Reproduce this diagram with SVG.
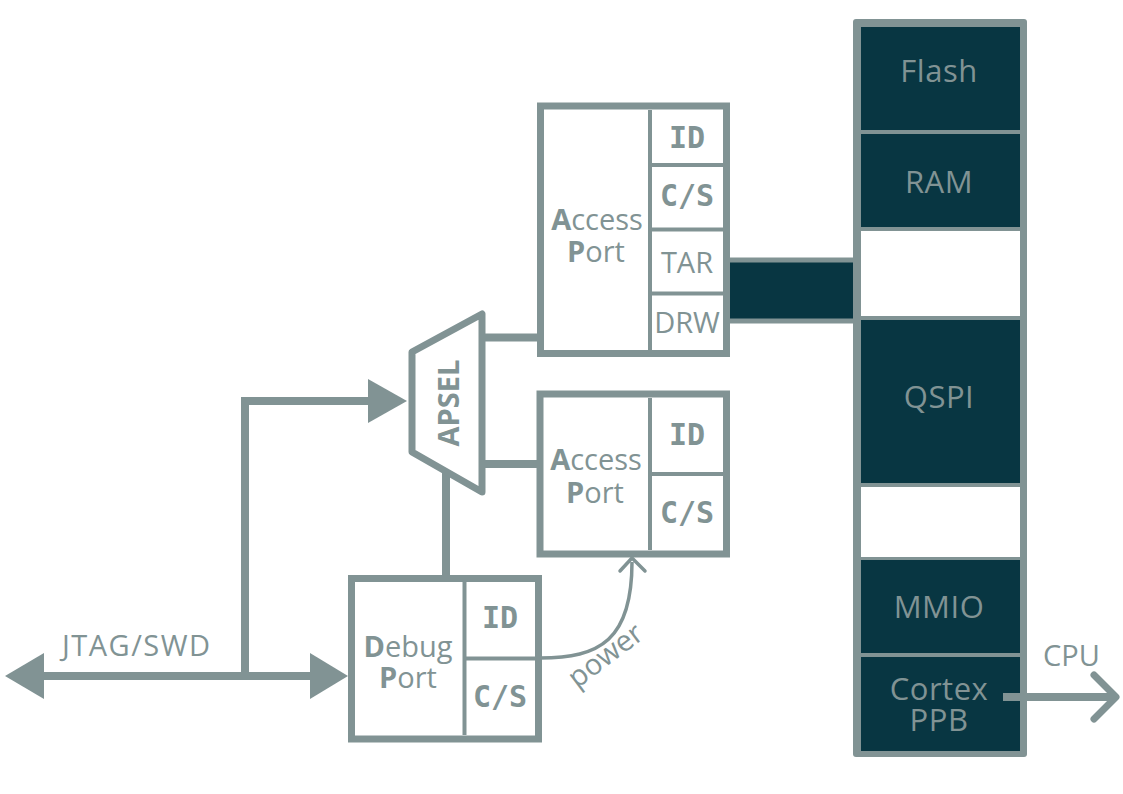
<svg xmlns="http://www.w3.org/2000/svg" width="1123" height="794" viewBox="0 0 1123 794">
<style>
.box{fill:#ffffff;stroke:#819394;stroke-width:7}
.div{stroke:#819394;stroke-width:4;fill:none}
.ln{stroke:#819394;stroke-width:8;fill:none}
.t{font-family:"Open Sans","Noto Sans","DejaVu Sans",sans-serif;font-size:29px;fill:#819394}
.m{font-family:"DejaVu Sans Mono","Liberation Mono",monospace;font-size:30px;font-weight:bold;fill:#819394}
.dark{fill:#083642}
.wh{fill:#ffffff}
.mt{font-family:"Open Sans","Noto Sans","DejaVu Sans",sans-serif;font-size:31px;fill:#819394;text-anchor:middle;letter-spacing:0.5px}
</style>
<rect width="1123" height="794" fill="#ffffff"/>
<g id="connectors">
  <path class="ln" d="M44,676 H312"/>
  <polygon points="5,676 44,653 44,699" fill="#819394"/>
  <polygon points="348,676 310,653 310,699" fill="#819394"/>
  <path class="ln" d="M245,676 V401 H372" stroke-linejoin="miter"/>
  <polygon points="407,401 368,379 368,423" fill="#819394"/>
  <path class="ln" d="M483,337.5 H537"/>
  <path class="ln" d="M483,464 H537"/>
  <path class="ln" d="M446,470 V576"/>
  <path d="M540,658 C600,658 632,640 632,562" stroke="#819394" stroke-width="3.5" fill="none"/>
  <path d="M620,571 L632,558 L645,571" stroke="#819394" stroke-width="3.5" fill="none" stroke-linecap="round" stroke-linejoin="round"/>
  <rect x="727" y="260" width="129" height="61" fill="#083642" stroke="#819394" stroke-width="5"/>
  <path class="ln" d="M1003,697 H1114"/>
  <path d="M1094,675 L1116,697 L1094,719" stroke="#819394" stroke-width="7" fill="none" stroke-linecap="round" stroke-linejoin="round"/>
  <text class="t" x="62" y="656" font-size="30" letter-spacing="1.5">JTAG/SWD</text>
  <text class="t" x="1043" y="666">CPU</text>
  <text class="t" x="0" y="0" font-size="31" transform="translate(577,689) rotate(-37)">power</text>
</g>
<g id="apsel">
  <polygon points="412,352 482,314 482,492 412,452" fill="#ffffff" stroke="#819394" stroke-width="7" stroke-linejoin="round"/>
  <text class="t" font-weight="bold" font-size="33" text-anchor="middle" transform="translate(459,403) rotate(-90)">APSEL</text>
</g>
<g id="access-port-1">
  <rect class="box" x="540.5" y="106" width="186" height="247.5"/>
  <path class="div" d="M650,110 V350 M652,165 H723 M652,229.5 H723 M652,293.5 H723"/>
  <text class="t" x="597" y="230" text-anchor="middle"><tspan font-weight="bold">A</tspan>ccess</text>
  <text class="t" x="596" y="262" text-anchor="middle"><tspan font-weight="bold">P</tspan>ort</text>
  <text class="m" x="687" y="148" text-anchor="middle">ID</text>
  <text class="m" x="687" y="206" text-anchor="middle">C/S</text>
  <text class="t" x="687" y="273" text-anchor="middle">TAR</text>
  <text class="t" x="687" y="333" text-anchor="middle">DRW</text>
</g>
<g id="access-port-2">
  <rect class="box" x="540" y="394" width="186.5" height="160"/>
  <path class="div" d="M650,398 V550 M652,474 H723"/>
  <text class="t" x="596" y="470" text-anchor="middle"><tspan font-weight="bold">A</tspan>ccess</text>
  <text class="t" x="595" y="503" text-anchor="middle"><tspan font-weight="bold">P</tspan>ort</text>
  <text class="m" x="687" y="445" text-anchor="middle">ID</text>
  <text class="m" x="687" y="523" text-anchor="middle">C/S</text>
</g>
<g id="debug-port">
  <rect class="box" x="351.5" y="578.5" width="187" height="160.5"/>
  <path class="div" d="M464.5,582 V735 M466,658.5 H535"/>
  <text class="t" x="408" y="657" text-anchor="middle"><tspan font-weight="bold">D</tspan>ebug</text>
  <text class="t" x="408" y="688" text-anchor="middle"><tspan font-weight="bold">P</tspan>ort</text>
  <text class="m" x="500" y="628" text-anchor="middle">ID</text>
  <text class="m" x="500" y="707" text-anchor="middle">C/S</text>
</g>
<g id="memory-map">
  <rect x="853" y="19" width="174" height="738" rx="3" fill="#819394"/>
  <g id="flash"><rect class="dark" x="861" y="27" width="159" height="103"/><text class="mt" x="939" y="82">Flash</text></g>
  <g id="ram"><rect class="dark" x="861" y="134" width="159" height="93"/><text class="mt" x="939" y="193">RAM</text></g>
  <g id="gap1"><rect class="wh" x="861" y="231" width="159" height="85"/></g>
  <g id="qspi"><rect class="dark" x="861" y="320" width="159" height="163"/><text class="mt" x="939" y="408">QSPI</text></g>
  <g id="gap2"><rect class="wh" x="861" y="487" width="159" height="70"/></g>
  <g id="mmio"><rect class="dark" x="861" y="560" width="159" height="93"/><text class="mt" x="939" y="618">MMIO</text></g>
  <g id="cortex-ppb"><rect class="dark" x="861" y="657" width="159" height="94"/><text class="mt" x="939" y="700">Cortex</text><text class="mt" x="939" y="731">PPB</text></g>
</g>
<path class="ln" d="M1003,697 H1114"/>
</svg>
